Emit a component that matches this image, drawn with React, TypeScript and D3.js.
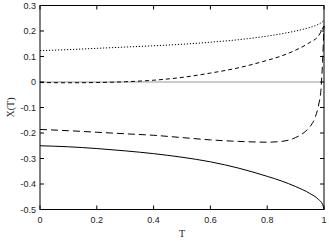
import * as d3 from 'd3';

const W = 329;
const H = 243;
const margin = { top: 5.5, right: 5, bottom: 33.5, left: 40 };

// T samples for each curve
const tDotted = [0, 0.1, 0.2, 0.3, 0.4, 0.5, 0.6, 0.7, 0.8, 0.9, 0.95, 0.98, 1];
const xDotted = [0.123, 0.127, 0.132, 0.137, 0.142, 0.148, 0.156, 0.166, 0.18, 0.2, 0.214, 0.226, 0.24];

const tShort = [0, 0.1, 0.2, 0.3, 0.4, 0.5, 0.6, 0.7, 0.8, 0.85, 0.9, 0.95, 0.98, 1];
const xShort = [-0.002, -0.003, -0.002, 0.001, 0.007, 0.018, 0.035, 0.056, 0.085, 0.102, 0.125, 0.155, 0.18, 0.22];

const tLong = [0, 0.1, 0.2, 0.3, 0.4, 0.5, 0.6, 0.7, 0.8, 0.85, 0.9, 0.93, 0.95, 0.97, 0.98, 0.99, 0.995, 1];
const xLong = [-0.186, -0.191, -0.197, -0.203, -0.209, -0.218, -0.227, -0.233, -0.236, -0.233, -0.218, -0.198, -0.176, -0.135, -0.095, -0.02, 0.08, 0.22];

const tSolid = [0, 0.1, 0.2, 0.3, 0.4, 0.5, 0.6, 0.7, 0.8, 0.85, 0.9, 0.95, 0.98, 0.995, 1];
const xSolid = [-0.25, -0.254, -0.261, -0.27, -0.281, -0.295, -0.313, -0.338, -0.37, -0.388, -0.41, -0.437, -0.46, -0.48, -0.5];

const xTicks = [0, 0.2, 0.4, 0.6, 0.8, 1];
const yTicks = [0.3, 0.2, 0.1, 0, -0.1, -0.2, -0.3, -0.4, -0.5];

const series = [
  { t: tDotted, v: xDotted, dash: '1.2,1.8' },
  { t: tShort, v: xShort, dash: '4,3' },
  { t: tLong, v: xLong, dash: '7,4' },
  { t: tSolid, v: xSolid, dash: '' },
];

export default function App() {
  const x = d3.scaleLinear().domain([0, 1]).range([margin.left, W - margin.right]);
  const y = d3.scaleLinear().domain([-0.5, 0.3]).range([H - margin.bottom, margin.top]);

  const line = d3.line<[number, number]>()
    .x(d => x(d[0]))
    .y(d => y(d[1]))
    .curve(d3.curveMonotoneX);

  const x0 = x(0), x1 = x(1), y0 = y(-0.5), y1 = y(0.3);
  const tickLen = 4;
  const labelFont = '"Liberation Sans", Arial, sans-serif';

  return (
    <svg width={W} height={H} style={{ position: 'fixed', left: 0, top: 0, background: '#fff' }}>
      <line x1={x0} x2={x1} y1={y(0)} y2={y(0)} stroke="#999" strokeWidth={1} />

      {series.map((s, i) => (
        <path
          key={i}
          d={line(s.t.map((t, j) => [t, s.v[j]] as [number, number])) || ''}
          fill="none"
          stroke="#000"
          strokeWidth={1}
          strokeDasharray={s.dash || undefined}
        />
      ))}

      {xTicks.map(t => (
        <g key={'x' + t}>
          <line x1={x(t)} x2={x(t)} y1={y0} y2={y0 - tickLen} stroke="#000" />
          <line x1={x(t)} x2={x(t)} y1={y1} y2={y1 + tickLen} stroke="#000" />
          <text x={x(t)} y={y0 + 13} textAnchor="middle" fontSize={9} fill="#222" fontFamily={labelFont}>
            {d3.format('~g')(t)}
          </text>
        </g>
      ))}

      {yTicks.map(v => (
        <g key={'y' + v}>
          <line x1={x0} x2={x0 + tickLen} y1={y(v)} y2={y(v)} stroke="#000" />
          <line x1={x1} x2={x1 - tickLen} y1={y(v)} y2={y(v)} stroke="#000" />
          <text x={36} y={y(v) + 3} textAnchor="end" fontSize={9} fill="#222" fontFamily={labelFont}>
            {d3.format('~g')(v).replace('−', '-')}
          </text>
        </g>
      ))}

      <rect x={x0} y={y1} width={x1 - x0} height={y0 - y1} fill="none" stroke="#000" strokeWidth={1} />

      <text x={(x0 + x1) / 2} y={237} textAnchor="middle" fontSize={10} fill="#222" fontFamily='"Liberation Serif", "DejaVu Serif", serif'>
        T
      </text>
      <text
        transform={`translate(14, ${(y0 + y1) / 2}) rotate(-90)`}
        textAnchor="middle"
        fontSize={10}
        fill="#222"
        fontFamily='"Liberation Serif", "DejaVu Serif", serif'
      >
        X(T)
      </text>
    </svg>
  );
}
